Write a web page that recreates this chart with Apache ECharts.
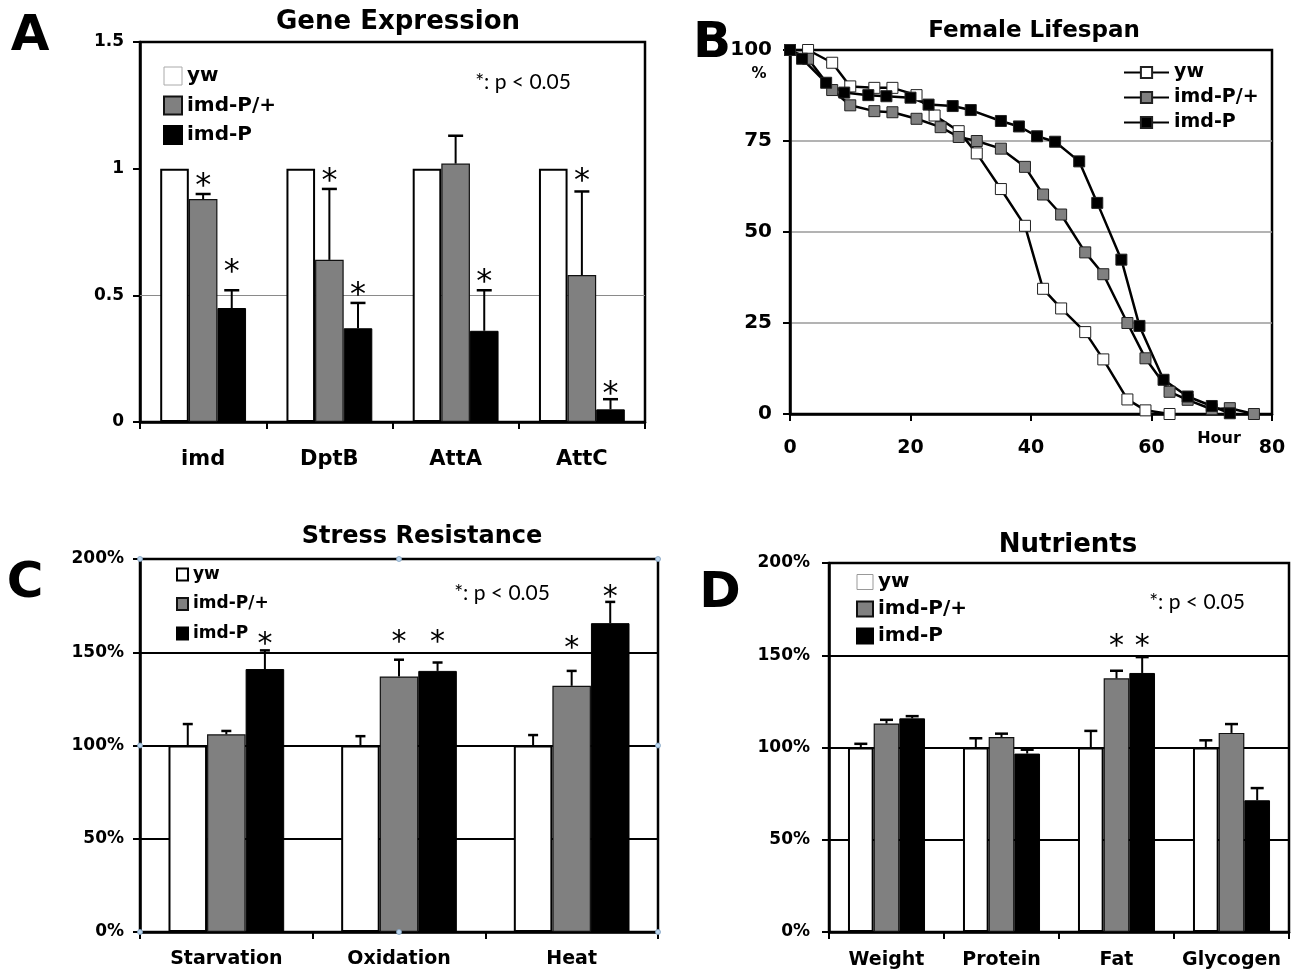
<!DOCTYPE html>
<html>
<head>
<meta charset="utf-8">
<script src="https://cdn.jsdelivr.net/npm/echarts@6/dist/echarts.min.js"></script>
<style>html,body{margin:0;padding:0;background:#fff}#chart{width:1296px;height:973px}</style>
</head>
<body>
<div id="chart"></div>
<script>
// ---------------- DATA ----------------
const groupNames = ['yw', 'imd-P/+', 'imd-P'];

// Panel A: Gene Expression
const geneCategories = ['imd', 'DptB', 'AttA', 'AttC'];
const geneTicks = [0, 0.5, 1, 1.5];
const geneYw = [1, 1, 1, 1];
const geneHet = [0.88, 0.64, 1.02, 0.58];
const geneHom = [0.45, 0.37, 0.36, 0.05];
const geneYwErrTop = [null, null, null, null];
const geneHetErrTop = [0.90, 0.92, 1.13, 0.91];
const geneHomErrTop = [0.52, 0.47, 0.52, 0.09];
const geneYwStar = [null, null, null, null];
const geneHetStar = [0.96, 0.98, null, 0.98];
const geneHomStar = [0.62, 0.53, 0.58, 0.14];

// Panel B: Female Lifespan (hours, % alive)
const lifeXTicks = [0, 20, 40, 60, 80];
const lifeYTicks = [0, 25, 50, 75, 100];
const lifeYwHours = [0, 3, 7, 10, 14, 17, 21, 24, 28, 31, 35, 39, 42, 45, 49, 52, 56, 59, 63];
const lifeYw = [100, 100, 96.5, 90, 89.6, 89.6, 87.6, 82, 77.7, 71.6, 61.8, 51.7, 34.4, 29, 22.5, 15, 4, 1, 0];
const lifeHetHours = [0, 3, 7, 10, 14, 17, 21, 25, 28, 31, 35, 39, 42, 45, 49, 52, 56, 59, 63, 66, 70, 73, 77];
const lifeHet = [100, 97.6, 89, 84.8, 83.2, 82.9, 81.1, 78.8, 76.1, 75, 72.9, 67.9, 60.3, 54.8, 44.4, 38.4, 25, 15.3, 6.1, 3.9, 1.3, 1.6, 0];
const lifeHomHours = [0, 2, 6, 9, 13, 16, 20, 23, 27, 30, 35, 38, 41, 44, 48, 51, 55, 58, 62, 66, 70, 73];
const lifeHom = [100, 97.6, 91, 88.3, 87.6, 87.3, 86.9, 85, 84.6, 83.5, 80.5, 79, 76.3, 74.8, 69.4, 58, 42.4, 24.2, 9.4, 4.8, 2.2, 0.2];

// Panel C: Stress Resistance (%)
const stressCategories = ['Starvation', 'Oxidation', 'Heat'];
const pctTicks = [0, 50, 100, 150, 200];
const stressYw = [100, 100, 100];
const stressHet = [106, 137, 132];
const stressHom = [141, 140, 165.6];
const stressYwErrTop = [111.5, 105, 105.6];
const stressHetErrTop = [107.8, 146, 140];
const stressHomErrTop = [151, 144.5, 177];
const stressYwStar = [null, null, null];
const stressHetStar = [null, 158.8, 155.4];
const stressHomStar = [157.6, 158.8, 183];

// Panel D: Nutrients (%)
const nutrientCategories = ['Weight', 'Protein', 'Fat', 'Glycogen'];
const nutrientYw = [100, 100, 100, 100];
const nutrientHet = [113, 105.7, 137.5, 107.9];
const nutrientHom = [115.8, 96.7, 140.4, 71.4];
const nutrientYwErrTop = [102, 105, 109, 103.9];
const nutrientHetErrTop = [115, 107.5, 141.6, 112.7];
const nutrientHomErrTop = [117, 98.8, 149, 78];
const nutrientYwStar = [null, null, null, null];
const nutrientHetStar = [null, null, 158.4, null];
const nutrientHomStar = [null, null, 158.4, null];

// ---------------- STYLE / LAYOUT ----------------
const FONT = 'DejaVu Sans';
const GRAY = '#808080';
const grids = [
  { left: 140, top: 42, right: 651, bottom: 551 },   // A
  { left: 790, top: 50, right: 24, bottom: 559 },    // B
  { left: 140, top: 559, right: 638, bottom: 41 },   // C
  { left: 829, top: 563, right: 7, bottom: 41 }      // D
];
const barFill = [
  { color: '#fff', borderColor: '#000', borderWidth: 2 },
  { color: GRAY, borderColor: '#111', borderWidth: 1.2 },
  { color: '#000', borderColor: '#000', borderWidth: 1 }
];

function errorRender(gapFrac, cap) {
  return function (params, api) {
    const i = api.value(0), s = api.value(1);
    const top = api.coord([i, api.value(2)]);
    const base = api.coord([i, api.value(3)]);
    const bw = api.size([1, 0])[0] * (1 - gapFrac) / 3;
    const x = top[0] + (s - 1) * bw;
    return {
      type: 'group',
      children: [
        { type: 'line', shape: { x1: x, y1: base[1], x2: x, y2: top[1] }, style: { stroke: '#000', lineWidth: 2 } },
        { type: 'line', shape: { x1: x - cap / 2, y1: top[1], x2: x + cap / 2, y2: top[1] }, style: { stroke: '#000', lineWidth: 2.5 } }
      ]
    };
  };
}
function starRender(gapFrac, size) {
  return function (params, api) {
    const i = api.value(0), s = api.value(1);
    const p = api.coord([i, api.value(2)]);
    const bw = api.size([1, 0])[0] * (1 - gapFrac) / 3;
    return {
      type: 'text',
      x: p[0] + (s - 1) * bw,
      y: p[1] + size * 0.24,
      style: { text: '*', font: size + 'px "DejaVu Sans"', fill: '#000', align: 'center', verticalAlign: 'middle', textAlign: 'center', textVerticalAlign: 'middle' }
    };
  };
}

function barPanel(idx, key, vals, errTops, stars, gapPct, cap, starSize) {
  const gapFrac = gapPct / 100;
  const out = [];
  vals.forEach((v, s) => {
    out.push({
      type: 'bar', name: key + '|' + groupNames[s], xAxisIndex: idx, yAxisIndex: idx,
      data: v, barGap: '0%', barCategoryGap: gapPct + '%', z: 2,
      itemStyle: barFill[s], emphasis: { disabled: true }, silent: true
    });
  });
  const errData = [];
  errTops.forEach((arr, s) => arr.forEach((t, i) => { if (t != null) errData.push([i, s, t, vals[s][i]]); }));
  out.push({ type: 'custom', xAxisIndex: idx, yAxisIndex: idx, data: errData, encode: { x: 0, y: 2 }, renderItem: errorRender(gapFrac, cap), z: 3, silent: true });
  const starData = [];
  stars.forEach((arr, s) => arr.forEach((t, i) => { if (t != null) starData.push([i, s, t]); }));
  out.push({ type: 'custom', xAxisIndex: idx, yAxisIndex: idx, data: starData, encode: { x: 0, y: 2 }, renderItem: starRender(gapFrac, starSize), z: 4, silent: true });
  return out;
}

function catAxis(idx, cats, fontSize, margin) {
  return {
    type: 'category', gridIndex: idx, data: cats,
    axisLine: { show: true, lineStyle: { color: '#000', width: 2.5 } },
    axisTick: { show: true, length: 7, interval: 0, lineStyle: { color: '#000', width: 2 } },
    axisLabel: { margin: margin, interval: 0, hideOverlap: false, fontSize: fontSize, fontWeight: 'bold', color: '#000', fontFamily: FONT },
    splitLine: { show: false }
  };
}
function valAxis(idx, ticks, fontSize, margin, fmt, split) {
  return {
    type: 'value', gridIndex: idx, min: ticks[0], max: ticks[ticks.length - 1], interval: ticks[1] - ticks[0],
    axisLine: { show: true, lineStyle: { color: '#000', width: 2.5 } },
    axisTick: { show: true, length: 7, lineStyle: { color: '#000', width: 2 } },
    axisLabel: { margin: margin, fontSize: fontSize, fontWeight: 'bold', color: '#000', fontFamily: FONT, formatter: fmt || '{value}' },
    splitLine: split ? { show: true, showMinLine: false, showMaxLine: false, lineStyle: split } : { show: false }
  };
}

function legendFor(key, left, top, iw, ih, gap, fs, lh, icon, ywStyle) {
  const l = {
    orient: 'vertical', left: left, top: top, padding: 0, itemWidth: iw, itemHeight: ih, itemGap: gap,
    selectedMode: false,
    data: groupNames.map((n, s) => (s === 0 && ywStyle) ? { name: key + '|' + n, itemStyle: ywStyle } : { name: key + '|' + n }),
    formatter: (name) => name.split('|')[1],
    textStyle: { fontFamily: FONT, fontWeight: 'bold', fontSize: fs, lineHeight: lh, color: '#000' }
  };
  if (icon) l.icon = icon;
  return l;
}

function pairs(xs, ys) { return xs.map((x, i) => [x, ys[i]]); }
function lifeSeries(name, xs, ys, fill) {
  return {
    type: 'line', name: 'B|' + name, xAxisIndex: 1, yAxisIndex: 1, data: pairs(xs, ys),
    symbol: 'rect', symbolSize: 11, showSymbol: true, showAllSymbol: true,
    lineStyle: { color: '#000', width: 2.5 },
    itemStyle: { color: fill, borderColor: '#222', borderWidth: 1 },
    emphasis: { disabled: true }, silent: true, z: 3
  };
}

const pctFmt = '{value}%';

const series = [].concat(
  // A
  [{ type: 'line', xAxisIndex: 0, yAxisIndex: 0, data: [], z: 1, silent: true,
     markLine: { silent: true, z: 1, symbol: 'none', label: { show: false }, animation: false,
       lineStyle: { color: '#8a8a8a', width: 1, type: 'solid' }, data: [{ yAxis: geneTicks[1] }] } }],
  barPanel(0, 'A', [geneYw, geneHet, geneHom], [geneYwErrTop, geneHetErrTop, geneHomErrTop], [geneYwStar, geneHetStar, geneHomStar], 32, 15, 32),
  // B
  [lifeSeries('yw', lifeYwHours, lifeYw, '#fff'),
   lifeSeries('imd-P/+', lifeHetHours, lifeHet, GRAY),
   lifeSeries('imd-P', lifeHomHours, lifeHom, '#000')],
  // C
  barPanel(2, 'C', [stressYw, stressHet, stressHom], [stressYwErrTop, stressHetErrTop, stressHomErrTop], [stressYwStar, stressHetStar, stressHomStar], 33, 10, 30),
  // D
  barPanel(3, 'D', [nutrientYw, nutrientHet, nutrientHom], [nutrientYwErrTop, nutrientHetErrTop, nutrientHomErrTop], [nutrientYwStar, nutrientHetStar, nutrientHomStar], 33, 13, 30)
);

function txt(x, y, text, font, align) {
  return { type: 'text', x: x, y: y, silent: true,
    style: { text: text, font: font, fill: '#000', align: align || 'center', verticalAlign: 'middle', textAlign: align || 'center', textVerticalAlign: 'middle' } };
}
const graphics = [
  txt(30, 37, 'A', 'bold 50px "DejaVu Sans"'),
  txt(712, 44, 'B', 'bold 50px "DejaVu Sans"'),
  txt(25, 584, 'C', 'bold 50px "DejaVu Sans"'),
  txt(720, 594, 'D', 'bold 50px "DejaVu Sans"'),
  txt(398, 22, 'Gene Expression', 'bold 26px "DejaVu Sans"'),
  txt(1034, 31, 'Female Lifespan', 'bold 23px "DejaVu Sans"'),
  txt(422, 537, 'Stress Resistance', 'bold 24px "DejaVu Sans"'),
  txt(1068, 545, 'Nutrients', 'bold 26px "DejaVu Sans"'),
  txt(523, 82, '*: p < 0.05', '21px "Lato"'),
  txt(502, 593, '*: p < 0.05', '21px "Lato"'),
  txt(1197, 602, '*: p < 0.05', '21px "Lato"'),
  txt(759, 74, '%', 'bold 15px "DejaVu Sans"'),
  txt(1219, 439, 'Hour', 'bold 16px "DejaVu Sans"')
];
// selection handles on panel C frame
(function () {
  const g = grids[2];
  const x0 = g.left, x1 = 1296 - g.right, y0 = g.top, y1 = 973 - g.bottom;
  const xs = [x0, (x0 + x1) / 2, x1], ys = [y0, (y0 + y1) / 2, y1];
  xs.forEach((x, a) => ys.forEach((y, b) => {
    if (a === 1 && b === 1) return;
    graphics.push({ type: 'circle', silent: true, z: 100, shape: { cx: x, cy: y, r: 2.5 }, style: { fill: '#bcd6ee', stroke: '#7f9fbf', lineWidth: 0.8 } });
  }));
})();

const option = {
  animation: false,
  backgroundColor: '#fff',
  textStyle: { fontFamily: FONT },
  grid: grids.map(g => Object.assign({ show: true, borderColor: '#000', borderWidth: 2.5, backgroundColor: 'transparent', containLabel: false, outerBoundsMode: 'none' }, g)),
  legend: [
    legendFor('A', 163, 66, 18, 18, 9.5, 20, 18, 'rect', { color: '#fff', borderColor: '#aaa', borderWidth: 1 }),
    legendFor('B', 1123, 63, 45, 14, 6, 19, 18, null, null),
    legendFor('C', 176, 566, 11, 12, 12.5, 17, 17, 'rect', null),
    legendFor('D', 856, 572, 16, 15, 7, 20, 19, 'rect', { color: '#fff', borderColor: '#999', borderWidth: 1 })
  ],
  xAxis: [
    catAxis(0, geneCategories, 21, 27),
    valAxis(1, lifeXTicks, 19, 25, '{value}', null),
    catAxis(2, stressCategories, 19, 18),
    catAxis(3, nutrientCategories, 19, 19)
  ],
  yAxis: [
    valAxis(0, geneTicks, 17, 16, '{value}', null),
    valAxis(1, lifeYTicks, 20, 18, '{value}', { color: '#9a9a9a', width: 1.5 }),
    valAxis(2, pctTicks, 17, 16, pctFmt, { color: '#000', width: 2 }),
    valAxis(3, pctTicks, 17, 19, pctFmt, { color: '#000', width: 2 })
  ],
  graphic: graphics,
  series: series
};

const chart = echarts.init(document.getElementById('chart'), null, { renderer: 'canvas' });
chart.setOption(option);
</script>
</body>
</html>
